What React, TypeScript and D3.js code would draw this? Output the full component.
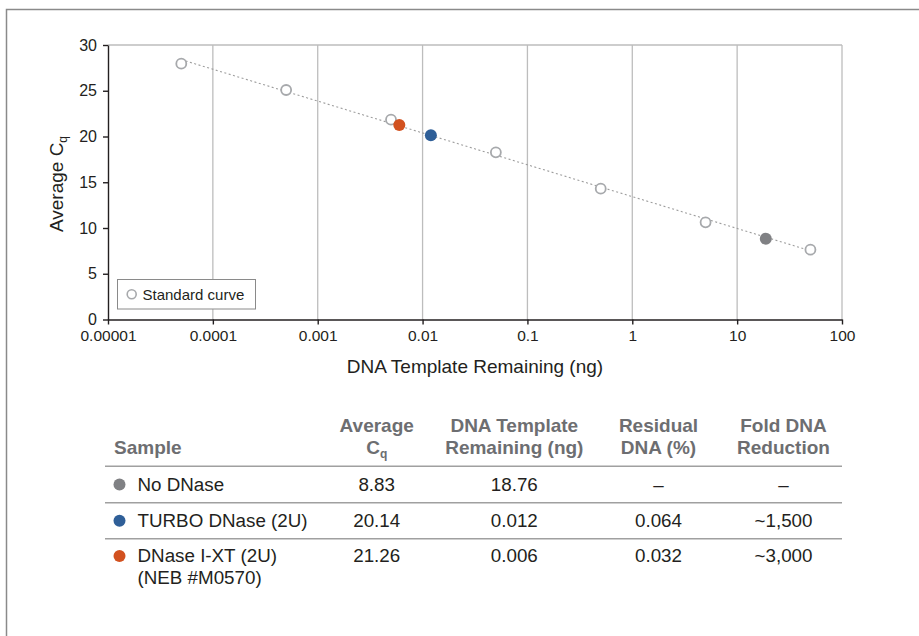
import React, { useEffect, useRef } from "react";
import * as d3 from "d3";

// standard curve (ng of template vs average Cq)
const stdNg = [0.00005, 0.0005, 0.005, 0.05, 0.5, 5, 50];
const stdCq = [27.96, 25.08, 21.84, 18.27, 14.3, 10.62, 7.63];

// samples
const sampleNames = ["No DNase", "TURBO DNase (2U)", "DNase I-XT (2U)"];
const sampleSubNames = ["", "", "(NEB #M0570)"];
const sampleCq = [8.83, 20.14, 21.26];
const sampleNg = [18.76, 0.012, 0.006];
const residualPct = ["\u2013", "0.064", "0.032"];
const foldReduction = ["\u2013", "~1,500", "~3,000"];
const sampleColors = ["#808184", "#2f5f98", "#d2511f"];

const xTicks = [0.00001, 0.0001, 0.001, 0.01, 0.1, 1, 10, 100];
const xTickLabels = ["0.00001", "0.0001", "0.001", "0.01", "0.1", "1", "10", "100"];
const yTicks = [0, 5, 10, 15, 20, 25, 30];

const FONT = "'Liberation Sans', Arial, Helvetica, sans-serif";

const App = () => {
  const svgRef = useRef<SVGSVGElement>(null);

  useEffect(() => {
    const svg = d3.select(svgRef.current);
    svg.selectAll("*").remove();

    const W = 919;
    const H = 636;
    const plot = { left: 108, right: 842, top: 45, bottom: 319.5 };

    // outer frame (top + left only)
    svg
      .append("path")
      .attr("d", `M6.5,${H} V9.5 H${W}`)
      .attr("fill", "none")
      .attr("stroke", "#8a8a8a")
      .attr("stroke-width", 1.5);

    const x = d3.scaleLog().domain([1e-5, 100]).range([plot.left, plot.right]);
    const y = d3.scaleLinear().domain([0, 30]).range([plot.bottom, plot.top]);

    // grid lines
    svg
      .append("g")
      .selectAll("line")
      .data(xTicks.slice(1))
      .enter()
      .append("line")
      .attr("x1", (d) => x(d))
      .attr("x2", (d) => x(d))
      .attr("y1", plot.top)
      .attr("y2", plot.bottom)
      .attr("stroke", "#bdbdbd")
      .attr("stroke-width", 1.3);

    // top border of plot
    svg
      .append("line")
      .attr("x1", plot.left)
      .attr("x2", plot.right)
      .attr("y1", plot.top)
      .attr("y2", plot.top)
      .attr("stroke", "#bdbdbd")
      .attr("stroke-width", 1.5);

    // axes
    const yAxis = d3.axisLeft(y).tickValues(yTicks).tickSize(5).tickSizeOuter(0).tickPadding(6);
    const gy = svg.append("g").attr("transform", `translate(${plot.left},0)`).call(yAxis);
    gy.selectAll("text").style("font-family", FONT).style("font-size", "16px").attr("fill", "#231f20");

    const xAxis = d3
      .axisBottom(x)
      .tickValues(xTicks)
      .tickFormat((d, i) => xTickLabels[i])
      .tickSize(5)
      .tickSizeOuter(0)
      .tickPadding(5);
    const gx = svg.append("g").attr("transform", `translate(0,${plot.bottom})`).call(xAxis);
    gx.selectAll("text").style("font-family", FONT).style("font-size", "15.5px").attr("fill", "#231f20");
    [gx, gy].forEach((g) => {
      g.selectAll("path, line").attr("stroke", "#231f20").attr("stroke-width", 1.4);
    });

    // axis titles
    svg
      .append("text")
      .attr("x", (plot.left + plot.right) / 2)
      .attr("y", 373)
      .attr("text-anchor", "middle")
      .style("font-family", FONT)
      .style("font-size", "19px")
      .attr("fill", "#231f20")
      .text("DNA Template Remaining (ng)");

    const yTitle = svg
      .append("text")
      .attr("transform", "translate(63,184) rotate(-90)")
      .attr("text-anchor", "middle")
      .style("font-family", FONT)
      .style("font-size", "19px")
      .attr("fill", "#231f20");
    yTitle.append("tspan").text("Average C");
    yTitle.append("tspan").attr("dy", 4).style("font-size", "12px").text("q");

    // standard curve fit (least squares on log10 ng)
    const lx = stdNg.map((v) => Math.log10(v));
    const mx = d3.mean(lx) as number;
    const my = d3.mean(stdCq) as number;
    const slope =
      (d3.sum(lx, (v, i) => (v - mx) * (stdCq[i] - my)) as number) /
      (d3.sum(lx, (v) => (v - mx) * (v - mx)) as number);
    const icpt = my - slope * mx;
    const ext = d3.extent(stdNg) as [number, number];
    const line = d3
      .line<number>()
      .x((d) => x(d))
      .y((d) => y(icpt + slope * Math.log10(d)));
    svg
      .append("path")
      .attr("d", line(ext))
      .attr("fill", "none")
      .attr("stroke", "#9d9d9d")
      .attr("stroke-width", 1.1)
      .attr("stroke-dasharray", "2,2.5");

    // standard points
    svg
      .append("g")
      .selectAll("circle")
      .data(stdNg)
      .enter()
      .append("circle")
      .attr("cx", (d) => x(d))
      .attr("cy", (d, i) => y(stdCq[i]))
      .attr("r", 5)
      .attr("fill", "#fff")
      .attr("stroke", "#a7a9ac")
      .attr("stroke-width", 1.8);

    // sample points
    svg
      .append("g")
      .selectAll("circle")
      .data(sampleNg)
      .enter()
      .append("circle")
      .attr("cx", (d) => x(d))
      .attr("cy", (d, i) => y(sampleCq[i]))
      .attr("r", 6)
      .attr("fill", (d, i) => sampleColors[i]);

    // legend
    const lg = svg.append("g");
    lg.append("rect")
      .attr("x", 117.5)
      .attr("y", 279.5)
      .attr("width", 138)
      .attr("height", 29.5)
      .attr("fill", "#fff")
      .attr("stroke", "#8a8a8a")
      .attr("stroke-width", 1);
    lg.append("circle")
      .attr("cx", 131.7)
      .attr("cy", 294.3)
      .attr("r", 4.5)
      .attr("fill", "#fff")
      .attr("stroke", "#a7a9ac")
      .attr("stroke-width", 1.6);
    lg.append("text")
      .attr("x", 142.5)
      .attr("y", 299.5)
      .style("font-family", FONT)
      .style("font-size", "15px")
      .attr("fill", "#231f20")
      .text("Standard curve");

    // table
    const tbl = svg.append("g").style("font-family", FONT);
    const colX = [376.7, 514.3, 658.5, 783.5];
    const headerColor = "#6d6e71";
    const head = tbl
      .append("g")
      .attr("fill", headerColor)
      .style("font-size", "19px")
      .style("font-weight", "bold")
      .attr("text-anchor", "middle");
    head.append("text").attr("x", 114).attr("y", 454).attr("text-anchor", "start").text("Sample");
    head.append("text").attr("x", colX[0]).attr("y", 432).text("Average");
    const cq = head.append("text").attr("x", colX[0]).attr("y", 454);
    cq.append("tspan").text("C");
    cq.append("tspan").attr("dy", 4).style("font-size", "12px").text("q");
    head.append("text").attr("x", colX[1]).attr("y", 432).text("DNA Template");
    head.append("text").attr("x", colX[1]).attr("y", 454).text("Remaining (ng)");
    head.append("text").attr("x", colX[2]).attr("y", 432).text("Residual");
    head.append("text").attr("x", colX[2]).attr("y", 454).text("DNA (%)");
    head.append("text").attr("x", colX[3]).attr("y", 432).text("Fold DNA");
    head.append("text").attr("x", colX[3]).attr("y", 454).text("Reduction");

    const sepY = [466.3, 502.7, 538.7];
    tbl
      .selectAll("line.sep")
      .data(sepY)
      .enter()
      .append("line")
      .attr("class", "sep")
      .attr("x1", 105)
      .attr("x2", plot.right)
      .attr("y1", (d) => d)
      .attr("y2", (d) => d)
      .attr("stroke", "#a0a0a0")
      .attr("stroke-width", 1.4);

    const rowBase = [490.7, 527, 562.3];
    const rows = tbl
      .selectAll("g.row")
      .data(sampleNames)
      .enter()
      .append("g")
      .attr("class", "row")
      .attr("fill", "#231f20")
      .style("font-size", "18.8px");
    rows
      .append("circle")
      .attr("cx", 119.5)
      .attr("cy", (d, i) => rowBase[i] - 6.3)
      .attr("r", 6)
      .attr("fill", (d, i) => sampleColors[i]);
    rows
      .append("text")
      .attr("x", 137.5)
      .attr("y", (d, i) => rowBase[i])
      .text((d) => d);
    rows
      .append("text")
      .attr("x", 137.5)
      .attr("y", (d, i) => rowBase[i] + 22)
      .text((d, i) => sampleSubNames[i]);
    const cells = (i: number) => [
      sampleCq[i].toFixed(2),
      String(sampleNg[i]),
      residualPct[i],
      foldReduction[i],
    ];
    rows.each(function (d, i) {
      d3.select(this)
        .selectAll("text.cell")
        .data(cells(i))
        .enter()
        .append("text")
        .attr("class", "cell")
        .attr("x", (c, j) => colX[j])
        .attr("y", rowBase[i])
        .attr("text-anchor", "middle")
        .text((c) => c);
    });
  }, []);

  return (
    <svg
      ref={svgRef}
      width="919"
      height="636"
      style={{ position: "absolute", left: 0, top: 0, background: "#fff" }}
    ></svg>
  );
};

export default App;
